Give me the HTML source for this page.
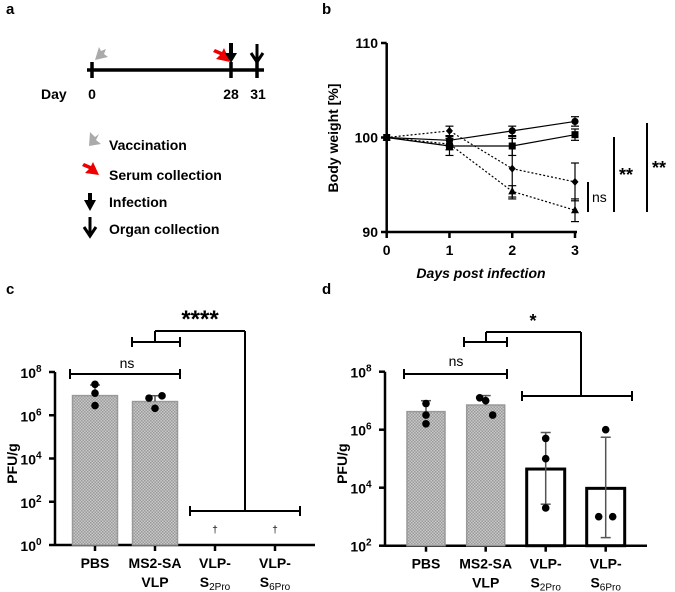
<!DOCTYPE html>
<html><head><meta charset="utf-8"><style>
body{margin:0;background:#fff}
svg{display:block;font-family:"Liberation Sans",Arial,sans-serif}
</style></head><body>
<svg id="fig" width="675" height="592" viewBox="0 0 675 592">
<defs>
<pattern id="hatch" width="3" height="3" patternUnits="userSpaceOnUse">
<rect width="3" height="3" fill="#c8c8c8"/><rect width="1.5" height="1.5" fill="#9a9a9a"/><rect x="1.5" y="1.5" width="1.5" height="1.5" fill="#9a9a9a"/>
</pattern>
</defs>
<g font-weight="bold" font-size="15">
<text x="6" y="14">a</text>
<text x="322" y="14">b</text>
<text x="6" y="294">c</text>
<text x="322" y="294">d</text>
</g>
<!-- Panel a -->
<g id="pa">
<line x1="87" y1="70" x2="264" y2="70" stroke="#000" stroke-width="3.5"/>
<line x1="92" y1="62" x2="92" y2="78" stroke="#000" stroke-width="3.5"/>
<line x1="231" y1="62" x2="231" y2="78" stroke="#000" stroke-width="3.5"/>
<line x1="257" y1="62" x2="257" y2="78" stroke="#000" stroke-width="3.5"/>
<g font-weight="bold" font-size="14">
<text x="41" y="99">Day</text>
<text x="92" y="99" text-anchor="middle">0</text>
<text x="231" y="99" text-anchor="middle">28</text>
<text x="258" y="99" text-anchor="middle">31</text>
</g>
<polygon points="95,60 99,47 101,51 106,49 104,54 108,57" fill="#aaa"/>
<polygon points="230,62 216,59 220,55 213,52 215,49 222,52 224,48" fill="#e00"/>
<polygon points="231,63 225,53 229,53 229,43 233,43 233,53 237,53" fill="#000"/>
<path d="M257,44 L257,62 M251,53 L257,62 L263,53" stroke="#000" stroke-width="3" fill="none"/>
<polygon points="89,146 90,132 95,137 99,134 96,140 101,144" fill="#aaa"/>
<polygon points="99,175 85,173 89,169 82,166 84,163 91,166 93,162" fill="#e00"/>
<polygon points="90,211 84,200 88,200 88,193 92,193 92,200 96,200" fill="#000"/>
<path d="M90,217 L90,236 M84,227 L90,236 L96,227" stroke="#000" stroke-width="3" fill="none"/>
<g font-weight="bold" font-size="14">
<text x="109" y="150">Vaccination</text>
<text x="109" y="180">Serum collection</text>
<text x="109" y="207">Infection</text>
<text x="109" y="234">Organ collection</text>
</g>
</g>
<g id="pb"></g>
<g id="pc"></g>
<g id="pd"></g>
</svg>
<script>
const NS="http://www.w3.org/2000/svg";
// Panel b data
const days=[0,1,2,3];
const yTicksB=[90,100,110];
const circleMean=[100,99.7,100.7,101.7];
const circleErr=[0,0.5,0.5,0.5];
const squareMean=[100,99.1,99.1,100.3];
const squareErr=[0,1.0,1.0,0.6];
const diamondMean=[100,100.7,96.7,95.3];
const diamondErr=[0,0.5,3.2,2.0];
const triMean=[100,99.3,94.3,92.3];
const triErr=[0,0.6,0.6,1.2];
// Panel c data
const groups=["PBS","MS2-SA","VLP-","VLP-"];
const groups2=["","VLP","S2Pro","S6Pro"];
const cMeans=[8.1e6,4.3e6,null,null];
const cErrTop=[2.5e7,8e6,null,null];
const cPoints=[[2.7e7,1.05e7,2.8e6],[6.2e6,2.1e6,7.9e6],[],[]];
const cTicks=[0,2,4,6,8];
// Panel d data
const dMeans=[4.2e6,7.1e6,4.4e4,9.5e3];
const dErrTop=[1e7,1.5e7,8e5,5.5e5];
const dErrBot=[null,null,2.7e3,1.9e2];
const dPoints=[[8e6,3.2e6,1.6e6],[1.26e7,1.0e7,3.2e6],[5e5,1e5,2e3],[1e6,1e3,1e3]];
const dTicks=[2,4,6,8];

function el(tag,attrs,parent,text){const e=document.createElementNS(NS,tag);for(const k in attrs)e.setAttribute(k,attrs[k]);if(text!==undefined)e.textContent=text;parent.appendChild(e);return e;}
function line(p,x1,y1,x2,y2,w,extra){return el('line',Object.assign({x1,y1,x2,y2,stroke:'#000','stroke-width':w||2},extra||{}),p);}

// Panel b
(function(){
const g=document.getElementById('pb');
const X=d=>386.7+d*(575-386.7)/3, Y=v=>232-(v-90)*(232-43)/20;
line(g,386.7,43,386.7,232,2.5);line(g,386.7,232,577,232,2.5);
yTicksB.forEach(t=>{line(g,381,Y(t),386.7,Y(t),2.5);
const tx=el('text',{x:378,y:Y(t)+5,'text-anchor':'end','font-weight':'bold','font-size':14},g,t);

});
days.forEach(d=>{line(g,X(d),232,X(d),238,2.5);
const tx=el('text',{x:X(d),y:255,'text-anchor':'middle','font-weight':'bold','font-size':14},g,d);

});
const yt=el('text',{transform:'translate(338,138) rotate(-90)','text-anchor':'middle','font-weight':'bold','font-size':14},g,'Body weight [%]');

const xt=el('text',{x:481,y:278,'text-anchor':'middle','font-weight':'bold','font-style':'italic','font-size':14},g,'Days post infection');

const series=[[circleMean,circleErr,'circle',''],[squareMean,squareErr,'square',''],[diamondMean,diamondErr,'diamond','2,2'],[triMean,triErr,'triangle','2,2']];
series.forEach(([m,e,shape,dash])=>{
const pts=days.map((d,i)=>X(d)+','+Y(m[i])).join(' ');
const pl=el('polyline',{points:pts,fill:'none',stroke:'#000','stroke-width':1.2,'stroke-dasharray':dash},g);

days.forEach((d,i)=>{const x=X(d),y=Y(m[i]);
if(e[i]>0){line(g,x,Y(m[i]+e[i]),x,Y(m[i]-e[i]),1.2);line(g,x-4,Y(m[i]+e[i]),x+4,Y(m[i]+e[i]),1.2);line(g,x-4,Y(m[i]-e[i]),x+4,Y(m[i]-e[i]),1.2);}
let mk;
if(shape==='circle')mk=el('circle',{cx:x,cy:y,r:3.6,fill:'#000'},g);
else if(shape==='square')mk=el('rect',{x:x-3.5,y:y-3.5,width:7,height:7,fill:'#000'},g);
else if(shape==='diamond')mk=el('polygon',{points:`${x},${y-4} ${x+3.5},${y} ${x},${y+4} ${x-3.5},${y}`,fill:'#000'},g);
else mk=el('polygon',{points:`${x},${y-4.5} ${x+4},${y+3} ${x-4},${y+3}`,fill:'#000'},g);
});
});
line(g,588,182,588,212,2);el('text',{x:592,y:202,'font-size':14},g,'ns');
line(g,614,137,614,212,2);el('text',{x:619,y:181,'font-size':18,'font-weight':'bold'},g,'**');
line(g,647,123,647,212,2);el('text',{x:652,y:174,'font-size':18,'font-weight':'bold'},g,'**');
})();

function barPanel(id,axX,yBase,yTop,minExp,maxExp,centers,bw,ticks,means,errTop,errBot,points,hatchCount,daggers,xRight){
const g=document.getElementById(id);
const Y=v=>yBase-(Math.log10(v)-minExp)*(yBase-yTop)/(maxExp-minExp);
line(g,axX,yTop,axX,yBase,2.5);line(g,axX,yBase,xRight,yBase,2.5);
ticks.forEach(t=>{const y=yBase-(t-minExp)*(yBase-yTop)/(maxExp-minExp);line(g,axX-6,y,axX,y,2.5);
const tx=el('text',{x:axX-24,y:y+6,'text-anchor':'middle','font-weight':'bold','font-size':14},g);

el('tspan',{},tx,'10');el('tspan',{dy:-6,'font-size':10},tx,t);});
const yt=el('text',{transform:`translate(${axX-38},${(yTop+yBase)/2+5}) rotate(-90)`,'text-anchor':'middle','font-weight':'bold','font-size':14},g,'PFU/g');

centers.forEach((cx,i)=>{
line(g,cx,yBase,cx,yBase+6,2.5);
const t1=el('text',{x:cx,y:yBase+23,'text-anchor':'middle','font-weight':'bold','font-size':14},g,groups[i]);

if(i===1)el('text',{x:cx,y:yBase+42,'text-anchor':'middle','font-weight':'bold','font-size':14},g,'VLP');
if(i>=2){const t2=el('text',{x:cx,y:yBase+42,'text-anchor':'middle','font-weight':'bold','font-size':14},g);
el('tspan',{},t2,'S');el('tspan',{'font-size':10,'font-weight':'normal',dy:3},t2,groups2[i].slice(1));}
if(means[i]!=null){const top=Y(means[i]);
const r=el('rect',{x:cx-bw/2,y:top,width:bw,height:yBase-top,fill:i<hatchCount?'url(#hatch)':'#fff',stroke:i<hatchCount?'#999':'#000','stroke-width':i<hatchCount?1.5:3},g);

const lo=errBot&&errBot[i]!=null?Y(errBot[i]):top;
if(errTop[i]!=null){line(g,cx,Y(errTop[i]),cx,lo,1.5,{stroke:'#555'});line(g,cx-5,Y(errTop[i]),cx+5,Y(errTop[i]),1.5,{stroke:'#555'});}
if(errBot&&errBot[i]!=null)line(g,cx-5,lo,cx+5,lo,1.5,{stroke:'#555'});}
const p=points[i];p.forEach((v,j)=>{
let dx=0; if(i===1)dx=[-6,0,7][j]; if(i===3)dx=[0,-7,7][j];
const c=el('circle',{cx:cx+dx,cy:Y(v),r:3.8,fill:'#000'},g);
});
if(daggers&&daggers[i]){el('text',{x:cx,y:yBase-12,'text-anchor':'middle','font-size':10},g,'†');}
});
return g;
}
const gc=barPanel('pc',55,545,372,0,8,[95,155,215,275],45,cTicks,cMeans,cErrTop,null,cPoints,2,[0,0,1,1],315);
function br(g,x1,x2,y){line(g,x1,y,x2,y,2);line(g,x1,y-5,x1,y+5,2);line(g,x2,y-5,x2,y+5,2);}
br(gc,70,180,374);el('text',{x:127,y:368,'text-anchor':'middle','font-size':14},gc,'ns');
br(gc,132,180,342);line(gc,155,342,155,331,2);line(gc,155,331,245,331,2);line(gc,245,331,245,511,2);br(gc,190,300,511);
el('text',{x:200,y:327,'text-anchor':'middle','font-size':24,'font-weight':'bold'},gc,'****');
const gd=barPanel('pd',385,545.7,371.7,2,8,[426,485.7,545.7,605.7],38,dTicks,dMeans,dErrTop,dErrBot,dPoints,2,null,647);
br(gd,404,507,374);el('text',{x:456,y:366,'text-anchor':'middle','font-size':14},gd,'ns');
br(gd,464,507,342);line(gd,486,342,486,332,2);line(gd,486,332,581,332,2);line(gd,581,332,581,396,2);br(gd,522,632,396);
el('text',{x:533,y:327,'text-anchor':'middle','font-size':18,'font-weight':'bold'},gd,'*');
</script>
</body></html>
